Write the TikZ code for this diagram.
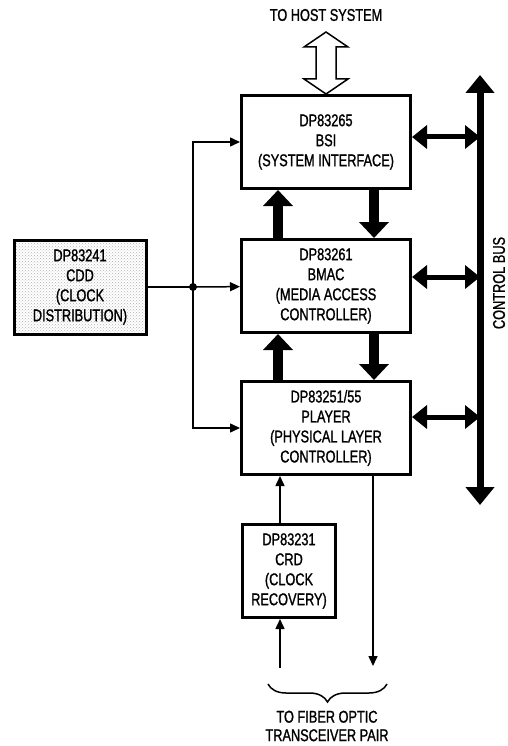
\documentclass[tikz,border=0pt]{standalone}
\usepackage{fontspec}
\setmainfont[FakeStretch=0.75, FakeBold=1.2]{Liberation Sans}
\usetikzlibrary{arrows.meta, calc, positioning, patterns, decorations.pathreplacing}

\tikzset{
  chip/.style={draw, line width=3pt, fill=white, align=center, minimum width=169pt, minimum height=93pt},
  wire/.style={line width=1.5pt, -{Triangle[length=10pt,width=9pt]}},
  fat/.style={line width=10pt, -{Triangle[length=16pt,width=29pt]}},
  link/.style={line width=5pt, {Triangle[length=15pt,width=23pt]}-{Triangle[length=15pt,width=23pt]}},
  bus/.style={line width=7pt, {Triangle[length=18pt,width=28pt]}-{Triangle[length=18pt,width=28pt]}},
  lbl/.style={align=center}
}

\begin{document}
\begin{tikzpicture}[x=1pt, y=-1pt, font=\fontsize{17}{20}\selectfont]
\useasboundingbox (0,0) rectangle (508,746);
% chips
\node[chip] (bsi) at (326,142) {DP83265\\BSI\\(SYSTEM INTERFACE)};
\node[chip] (bmac) at (326,286) {DP83261\\BMAC\\(MEDIA ACCESS\\CONTROLLER)};
\node[chip] (player) at (326,428) {DP83251/55\\PLAYER\\(PHYSICAL LAYER\\CONTROLLER)};
\node[chip, minimum width=93pt] (crd) at (289,571) {DP83231\\CRD\\(CLOCK\\RECOVERY)};
\node[chip, minimum width=132pt, minimum height=94pt, fill=none, pattern=crosshatch dots, pattern color=gray!60] (cdd) at (80,287) {DP83241\\CDD\\(CLOCK\\DISTRIBUTION)};
% labels
\node[lbl] (host) at (326,15) {TO HOST SYSTEM};
\node[lbl, font=\fontsize{17}{18.5}\selectfont] (fiber) at (327,726) {TO FIBER OPTIC\\TRANSCEIVER PAIR};
\node[rotate=90] (cbus) at (499,283) {CONTROL BUS};
\coordinate (jn) at (193,287);
\coordinate (bustop) at (480,75);
\coordinate (busbot) at (480,505);
\coordinate (rxin) at (280,668);
\coordinate (txout) at (373,666);

% host port
\draw[line width=1.5pt, fill=white, shift={(bsi.north)}] (0,-62) -- (22,-47) -- (10,-47) -- (10,-15) -- (22,-15) -- (0,0)
  -- (-22,-15) -- (-10,-15) -- (-10,-47) -- (-22,-47) -- cycle;

% clock distribution
\draw[line width=1.5pt] (cdd) -- (jn);
\fill (jn) circle (4pt);
\draw[wire] (jn) -- (bmac);
\draw[wire] (jn) |- (bsi);
\draw[wire] (jn) |- (player);

% data paths
\draw[fat] ([xshift=38pt]bmac.north west) -- ([xshift=38pt]bsi.south west);
\draw[fat] ([xshift=-38pt]bsi.south east) -- ([xshift=-38pt]bmac.north east);
\draw[fat] ([xshift=38pt]player.north west) -- ([xshift=38pt]bmac.south west);
\draw[fat] ([xshift=-38pt]bmac.south east) -- ([xshift=-38pt]player.north east);

% control bus
\draw[bus] (bustop) -- (busbot);
\draw[link] ([yshift=5pt]bsi.east) -- ([yshift=5pt]bsi.east -| bustop);
\draw[link] ([yshift=9pt]bmac.east) -- ([yshift=9pt]bmac.east -| bustop);
\draw[link] ([yshift=11pt]player.east) -- ([yshift=11pt]player.east -| bustop);

% fiber side
\draw[wire] ([xshift=-9pt]crd.north) -- ([xshift=-9pt]crd.north |- player.south);
\draw[wire] (rxin) -- (rxin |- crd.south);
\draw[wire] (txout |- player.south) -- (txout);
\draw[line width=1.5pt, decorate, decoration={brace, amplitude=18pt}] (387,684) -- (268,684);
\end{tikzpicture}
\end{document}
